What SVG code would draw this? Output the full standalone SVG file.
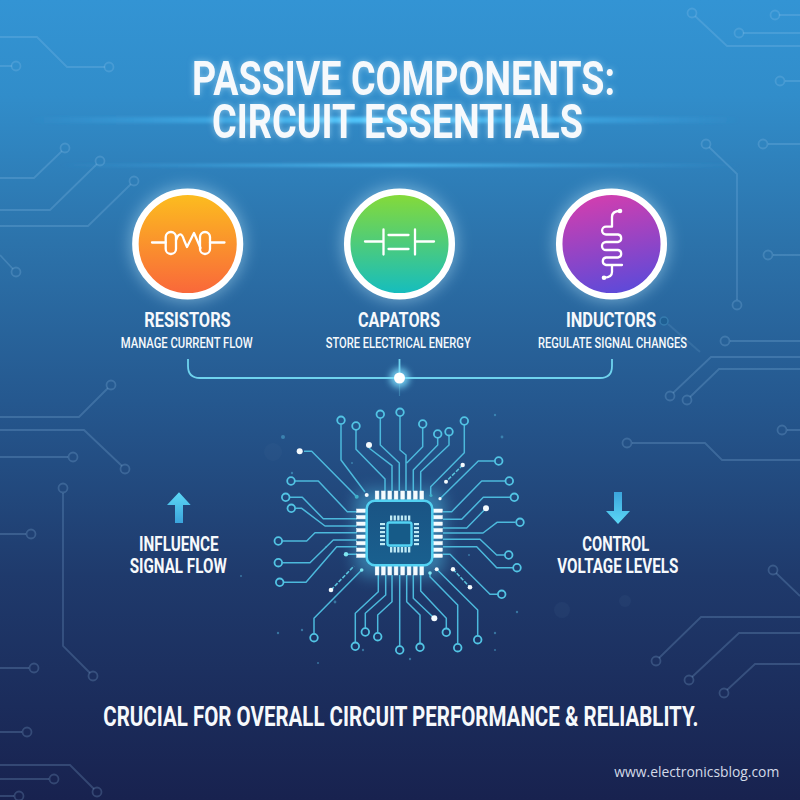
<svg xmlns="http://www.w3.org/2000/svg" width="800" height="800" viewBox="0 0 800 800">
<style>
.bg{fill:none;stroke:#9ccdf0;stroke-opacity:.21;stroke-width:1.8}
.tr{fill:none;stroke:#4cb9dc;stroke-width:1.5;stroke-linejoin:round}
.r{fill:none;stroke:#52c4e4;stroke-width:1.8}
.w{fill:#f4fafd}
.t{fill:#3fb0c8}
.dash{fill:none;stroke:#58c3dc;stroke-width:1.6;stroke-dasharray:4 1.5}
.sp{fill:#4fa9cf;opacity:.55}
.pin{fill:#f5fbfe;stroke:#f5fbfe;stroke-width:.5}
.ipin{fill:#bfeaf5}
.icon{fill:none;stroke:#fff;stroke-width:2.3;stroke-linecap:round;stroke-linejoin:round}
text{font-family:Roboto,"Liberation Sans",sans-serif;fill:#f6f9fc;font-weight:700}
.h{font-size:49px}
.n{font-size:20px}
.s{font-size:15px;font-weight:500}
</style>
<defs>
<linearGradient id="bgG" x1="0" y1="0" x2="0" y2="1">
<stop offset="0" stop-color="#3394d4"/><stop offset=".12" stop-color="#318dca"/><stop offset=".3" stop-color="#2c73ab"/><stop offset=".5" stop-color="#25588f"/><stop offset=".72" stop-color="#1f3a6c"/><stop offset="1" stop-color="#18224f"/>
</linearGradient>
<linearGradient id="glowL" x1="0" y1="0" x2="1" y2="0">
<stop offset="0" stop-color="#3fb4f5" stop-opacity="0"/><stop offset=".5" stop-color="#55cbff"/><stop offset="1" stop-color="#3fb4f5" stop-opacity="0"/>
</linearGradient>
<linearGradient id="gR" x1="0" y1="0" x2="0" y2="1"><stop offset="0" stop-color="#fcbf1e"/><stop offset="1" stop-color="#f9653b"/></linearGradient>
<linearGradient id="gC" x1="0" y1="0" x2="0" y2="1"><stop offset="0" stop-color="#88db35"/><stop offset="1" stop-color="#12bcc2"/></linearGradient>
<linearGradient id="gI" x1=".4" y1="0" x2=".6" y2="1"><stop offset="0" stop-color="#d43eae"/><stop offset="1" stop-color="#5a4ada"/></linearGradient>
<linearGradient id="gA" x1="0" y1="0" x2="0" y2="1"><stop offset="0" stop-color="#5cd8f6"/><stop offset="1" stop-color="#3ba4dc"/></linearGradient>
<linearGradient id="gD" x1="0" y1="0" x2="0" y2="1"><stop offset="0" stop-color="#3ba4dc"/><stop offset="1" stop-color="#5cd8f6"/></linearGradient>
<linearGradient id="chipF" x1="0" y1="0" x2="0" y2="1"><stop offset="0" stop-color="#1a5484"/><stop offset="1" stop-color="#19608f"/></linearGradient>
<filter id="b8" x="-50%" y="-50%" width="200%" height="200%"><feGaussianBlur stdDeviation="8"/></filter>
<filter id="b3" x="-50%" y="-50%" width="200%" height="200%"><feGaussianBlur stdDeviation="3"/></filter>
<filter id="b2" x="-5%" y="-500%" width="110%" height="1100%"><feGaussianBlur stdDeviation="1.6"/></filter>
<filter id="tg" x="-10%" y="-40%" width="120%" height="180%"><feDropShadow dx="0" dy="0" stdDeviation="3" flood-color="#cdeeff" flood-opacity=".5"/></filter>
</defs>

<rect id="background" width="800" height="800" fill="url(#bgG)"/>
<rect x="30" y="117" width="710" height="6" fill="url(#glowL)" filter="url(#b2)"/>
<rect x="60" y="164" width="680" height="2.5" fill="url(#glowL)" filter="url(#b2)"/>

<g id="background-traces">
<path class="bg" d="M0 37H37L67 67H105M0 66H12M0 178H34L62 151M0 210H50L97 164M0 226H88L131 184M0 255L13 269"/>
<circle class="bg" cx="109" cy="67" r="4.5"/><circle class="bg" cx="16" cy="66" r="4.5"/><circle class="bg" cx="65" cy="148" r="4.5"/><circle class="bg" cx="100" cy="161" r="4.5"/><circle class="bg" cx="134" cy="181" r="4.5"/><circle class="bg" cx="16" cy="272" r="4.5"/>
<path class="bg" d="M695 16L727 46H800M743 33H800M779 15H800M785 81H800M709 147L737 174V300M768 144H800M773 255H800M730 341H800M673 393L711 357H800M690 397L719 369H800M787 430H800M632 443H705L722 460H800M776 573L800 596M659 658L701 617H800M692 677L739 633H800M727 690L755 664H800"/>
<circle class="bg" cx="692" cy="13" r="4.5"/><circle class="bg" cx="775" cy="15" r="4.5"/><circle class="bg" cx="739" cy="33" r="4.5"/><circle class="bg" cx="780" cy="81" r="4.5"/><circle class="bg" cx="706" cy="144" r="4.5"/><circle class="bg" cx="763" cy="144" r="4.5"/><circle class="bg" cx="768" cy="255" r="4.5"/><circle class="bg" cx="737" cy="305" r="4.5"/><circle class="bg" cx="725" cy="341" r="4.5"/><circle class="bg" cx="670" cy="396" r="4.5"/><circle class="bg" cx="687" cy="400" r="4.5"/><circle class="bg" cx="782" cy="430" r="4.5"/><circle class="bg" cx="627" cy="443" r="4.5"/><circle class="bg" cx="773" cy="570" r="4.5"/><circle class="bg" cx="656" cy="661" r="4.5"/><circle class="bg" cx="689" cy="680" r="4.5"/><circle class="bg" cx="724" cy="693" r="4.5"/>
<path class="bg" d="M0 417H79L108 388M0 430H84L122 466M0 457H68M63 493V646L90 673M0 534H26M0 668H29M0 732H22M0 765H70L94 789M0 779H49M0 796H14"/>
<circle class="bg" cx="111" cy="385" r="4.5"/><circle class="bg" cx="125" cy="469" r="4.5"/><circle class="bg" cx="73" cy="457" r="4.5"/><circle class="bg" cx="63" cy="488" r="4.5"/><circle class="bg" cx="31" cy="534" r="4.5"/><circle class="bg" cx="93" cy="676" r="4.5"/><circle class="bg" cx="34" cy="668" r="4.5"/><circle class="bg" cx="27" cy="732" r="4.5"/><circle class="bg" cx="97" cy="792" r="4.5"/><circle class="bg" cx="54" cy="779" r="4.5"/><circle class="bg" cx="19" cy="796" r="4.5"/>
<circle cx="664" cy="321" r="4" fill="#1d5f93" stroke="#3a82b4" stroke-width="1.5" opacity=".8"/>
<path d="M668 324L700 352" stroke="#9ccdf0" stroke-opacity=".12" stroke-width="2" fill="none"/>
<circle cx="562" cy="610" r="8" fill="#8fb4d8" opacity=".05"/><circle cx="625" cy="601" r="6" fill="#8fb4d8" opacity=".05"/><circle cx="273" cy="452" r="9" fill="#8fb4d8" opacity=".04"/>
</g>

<g id="specks">
<circle class="sp" cx="241" cy="576" r="1"/><circle class="sp" cx="278" cy="633" r="1.2"/><circle class="sp" cx="363" cy="650" r="1.2"/><circle class="sp" cx="318" cy="663" r="1"/><circle class="sp" cx="410" cy="659" r="1.2"/><circle class="sp" cx="495" cy="650" r="1"/><circle class="sp" cx="517" cy="612" r="1.2"/><circle class="sp" cx="495" cy="633" r="1.2"/><circle class="sp" cx="495" cy="415" r="1.2"/><circle class="sp" cx="292" cy="473" r="1.2"/><circle class="sp" cx="352" cy="463" r="1"/><circle class="sp" cx="502" cy="437" r="1.4" opacity=".3"/><circle class="sp" cx="283" cy="437" r="2" opacity=".25"/><circle class="sp" cx="302" cy="630" r="1.2" opacity=".3"/><circle class="sp" cx="335" cy="602" r="1.4" opacity=".3"/><circle class="sp" cx="326" cy="547" r="1" opacity=".4"/><circle class="sp" cx="469" cy="555" r="1" opacity=".4"/>
</g>

<g id="title">
<text class="h" x="192" y="95" textLength="423" lengthAdjust="spacingAndGlyphs" filter="url(#tg)">PASSIVE COMPONENTS:</text>
<text class="h" x="212" y="138" textLength="371" lengthAdjust="spacingAndGlyphs" filter="url(#tg)">CIRCUIT ESSENTIALS</text>
</g>

<g id="node-resistors">
<circle cx="187.7" cy="244" r="57" fill="#b9e6fb" opacity=".5" filter="url(#b8)"/>
<circle cx="187.7" cy="244" r="52.3" fill="url(#gR)" stroke="#fff" stroke-width="6.5"/>
<path class="icon" d="M152 242.5H165.7M210 242.5H224.5"/>
<rect class="icon" x="165.7" y="232" width="10.3" height="22" rx="5"/>
<rect class="icon" x="200" y="232" width="10" height="22" rx="5"/>
<path class="icon" d="M176 240C179 232 182 233 184 240L187 247L194 233L200.500 248"/>
<text class="n" x="144.300" y="327" textLength="86.400" lengthAdjust="spacingAndGlyphs">RESISTORS</text>
<text class="s" x="120.700" y="347.700" textLength="132" lengthAdjust="spacingAndGlyphs">MANAGE CURRENT FLOW</text>
</g>

<g id="node-capacitors">
<circle cx="399.500" cy="244" r="57" fill="#b9e6fb" opacity=".5" filter="url(#b8)"/>
<circle cx="399.500" cy="244" r="52.300" fill="url(#gC)" stroke="#fff" stroke-width="6.500"/>
<path class="icon" d="M365 241.500H383.500M383.500 229.500V254.500M388.500 235H408.500M388.500 249H408.500M415 229.500V254.500M415 241.500H434"/>
<text class="n" x="358" y="327" textLength="82" lengthAdjust="spacingAndGlyphs">CAPATORS</text>
<text class="s" x="325.700" y="347.700" textLength="145" lengthAdjust="spacingAndGlyphs">STORE ELECTRICAL ENERGY</text>
</g>

<g id="node-inductors">
<circle cx="611.500" cy="244" r="57" fill="#b9e6fb" opacity=".5" filter="url(#b8)"/>
<circle cx="611.500" cy="244" r="52.300" fill="url(#gI)" stroke="#fff" stroke-width="6.500"/>
<path class="icon" d="M620 211Q612 211 612 217V226.700H606A3.900 3.900 0 0 0 606 234.500H618A3.800 3.800 0 0 1 618 242H606A4 4 0 0 0 606 250H618A3.800 3.800 0 0 1 618 257.500H606A3.800 3.800 0 0 0 606 265H622M612 265V272Q612 277.500 604 277.700"/>
<circle cx="620" cy="211" r="2.300" fill="#fff"/><circle cx="604" cy="277.700" r="2.300" fill="#fff"/>
<text class="n" x="566" y="327" textLength="90" lengthAdjust="spacingAndGlyphs">INDUCTORS</text>
<text class="s" x="538" y="347.700" textLength="149" lengthAdjust="spacingAndGlyphs">REGULATE SIGNAL CHANGES</text>
</g>

<g id="connectors">
<path d="M188 359V366Q188 378 200 378H600Q612 378 612 366V359" fill="none" stroke="#6fd3ee" stroke-width="1.800"/>
<path d="M399.500 359V378" fill="none" stroke="#6fd3ee" stroke-width="1.800"/>
<path d="M399.500 384V396" fill="none" stroke="#6fd3ee" stroke-width="1.200" opacity=".3"/>
<circle cx="399.500" cy="378" r="10" fill="#7fe0ff" opacity=".8" filter="url(#b3)"/>
<circle cx="399.500" cy="378" r="5.500" fill="#fff"/>
</g>

<g id="node-chip">
<rect x="355" y="490" width="90" height="86" rx="14" fill="#52c9ee" opacity=".45" filter="url(#b8)"/>
<g id="chip-traces">
<path class="tr" d="M341 425V460L365 492M356 430V449.300L385 479V491M369 448L392 465.700V491M380.300 418V445L399.300 463V491M400 416V450L406 455V491M422.700 428V446.700L406.700 463M437.700 438V445L413.300 470V491M449 436V445L420.700 471.700V491M464.300 425V452.700L430.700 486.700V495"/>
<path class="tr" d="M304 451.300H311.700L356.700 496.700M295 481H318.300L347.300 511.700H357M290 497.300H302.300L323.300 518.700H357M296 508.300H301.700L325 526H357M282.500 541H306.700L315 532.700H357M282.500 562.700H310L333.300 540H357M284 582.300H306L336.700 546.700H357M346 554.300H357"/>
<path class="tr" d="M314 633V618.300L361.700 570M355.300 642V613.300L378.300 591.700V575M365.300 628V613.300L385.700 595V575M377.700 632V615L392 601.700V575M399.700 646V575M420 643V615L406.700 601.700V575M434.300 618.300L413.300 598.300V575M446.300 628V618.300L420.700 591V575M457.700 643V605L430 576.700V573M477.700 635V610L436.700 569.300"/>
<path class="tr" d="M440 498.700L478.300 461H494.500M505 481H481.700L451.700 511.700H443M510 497.300H483.300L461.700 519.300H443M486 508.300L466.700 528H443M515.500 522.300H497L483 533H443M504.500 555H496.700L480 539.300H443M513 567.700H496.700L476.700 546.700H443M497.500 594.300H490L450 554.300H443"/>
<path class="dash" d="M462.700 465L446 481.700M331 590L354 566M453 569.300L470 587.300"/>
<g>
<circle class="r" cx="341" cy="420.300" r="3.800"/><circle class="r" cx="356" cy="426" r="3.800"/><circle class="r" cx="380.300" cy="414.300" r="3.800"/><circle class="r" cx="400" cy="412.300" r="3.800"/><circle class="r" cx="422.700" cy="424" r="3.800"/><circle class="r" cx="437.700" cy="434" r="3.800"/><circle class="r" cx="449" cy="431.700" r="3.800"/><circle class="r" cx="464.300" cy="421" r="3.800"/>
<circle class="r" cx="291" cy="481" r="3.800"/><circle class="r" cx="285.700" cy="497.300" r="3.800"/><circle class="r" cx="291.300" cy="508.300" r="3.800"/><circle class="r" cx="278.300" cy="541" r="3.800"/><circle class="r" cx="278.300" cy="562.700" r="3.800"/><circle class="r" cx="279.700" cy="582.300" r="3.800"/>
<circle class="r" cx="314" cy="637.700" r="3.800"/><circle class="r" cx="355.300" cy="646.300" r="3.800"/><circle class="r" cx="365.300" cy="632" r="3.800"/><circle class="r" cx="377.700" cy="636.700" r="3.800"/><circle class="r" cx="399.700" cy="650" r="3.800"/><circle class="r" cx="420" cy="647.300" r="3.800"/><circle class="r" cx="446.300" cy="632.300" r="3.800"/><circle class="r" cx="457.700" cy="647.700" r="3.800"/><circle class="r" cx="477.700" cy="639.700" r="3.800"/>
<circle class="r" cx="498.700" cy="461" r="3.800"/><circle class="r" cx="509.300" cy="481" r="3.800"/><circle class="r" cx="514.300" cy="497.300" r="3.800"/><circle class="r" cx="520" cy="522.300" r="3.800"/><circle class="r" cx="508.700" cy="555" r="3.800"/><circle class="r" cx="517" cy="567.700" r="3.800"/><circle class="r" cx="501.700" cy="594.300" r="3.800"/>
<circle class="w" cx="299.700" cy="451.300" r="3"/><circle class="w" cx="369" cy="445" r="3"/><circle class="w" cx="366.700" cy="495" r="2"/><circle class="w" cx="440" cy="498.700" r="1.600"/><circle class="w" cx="486" cy="508.300" r="3"/><circle class="w" cx="462.700" cy="465" r="2.200"/><circle class="w" cx="446" cy="481.700" r="2"/><circle class="w" cx="331" cy="590" r="2.300"/><circle class="w" cx="434.300" cy="618.300" r="3"/><circle class="w" cx="436.700" cy="569.300" r="2"/><circle class="w" cx="453" cy="569.300" r="2.200"/><circle class="w" cx="470" cy="587.300" r="2.300"/>
<circle class="t" cx="356.700" cy="496.700" r="2"/><circle class="t" cx="431" cy="495.500" r="1.500"/><circle cx="346" cy="554.300" r="2.200" fill="#7fe6f0"/><circle cx="361.700" cy="570" r="1.800" fill="#7fe6f0"/><circle cx="430" cy="573" r="1.800" fill="#7fe6f0"/>
</g>
</g>
<g id="pins">
<rect class="pin" x="375.200" y="491" width="3.700" height="8.500"/><rect class="pin" x="381.500" y="491" width="3.700" height="8.500"/><rect class="pin" x="387.900" y="491" width="3.700" height="8.500"/><rect class="pin" x="394.200" y="491" width="3.700" height="8.500"/><rect class="pin" x="400.800" y="491" width="3.700" height="8.500"/><rect class="pin" x="407.200" y="491" width="3.700" height="8.500"/><rect class="pin" x="413.500" y="491" width="3.700" height="8.500"/><rect class="pin" x="419.900" y="491" width="3.700" height="8.500"/>
<rect class="pin" x="375.200" y="566" width="3.700" height="9"/><rect class="pin" x="381.500" y="566" width="3.700" height="9"/><rect class="pin" x="387.900" y="566" width="3.700" height="9"/><rect class="pin" x="394.200" y="566" width="3.700" height="9"/><rect class="pin" x="400.800" y="566" width="3.700" height="9"/><rect class="pin" x="407.200" y="566" width="3.700" height="9"/><rect class="pin" x="413.500" y="566" width="3.700" height="9"/><rect class="pin" x="419.900" y="566" width="3.700" height="9"/>
<rect class="pin" x="356.700" y="509" width="9" height="3.400"/><rect class="pin" x="356.700" y="515.500" width="9" height="3.400"/><rect class="pin" x="356.700" y="522" width="9" height="3.400"/><rect class="pin" x="356.700" y="528.500" width="9" height="3.400"/><rect class="pin" x="356.700" y="535" width="9" height="3.400"/><rect class="pin" x="356.700" y="541.500" width="9" height="3.400"/><rect class="pin" x="356.700" y="548" width="9" height="3.400"/><rect class="pin" x="356.700" y="554" width="9" height="3.400"/>
<rect class="pin" x="433.300" y="509" width="9" height="3.400"/><rect class="pin" x="433.300" y="515.500" width="9" height="3.400"/><rect class="pin" x="433.300" y="522" width="9" height="3.400"/><rect class="pin" x="433.300" y="528.500" width="9" height="3.400"/><rect class="pin" x="433.300" y="535" width="9" height="3.400"/><rect class="pin" x="433.300" y="541.500" width="9" height="3.400"/><rect class="pin" x="433.300" y="548" width="9" height="3.400"/><rect class="pin" x="433.300" y="554" width="9" height="3.400"/>
</g>
<rect x="366.700" y="500.700" width="65.600" height="64.600" rx="8" fill="url(#chipF)" stroke="#52d2f2" stroke-width="2.500"/>
<g id="inner-pins">
<rect class="ipin" x="390" y="515.500" width="2.300" height="5"/><rect class="ipin" x="393.600" y="515.500" width="2.300" height="5"/><rect class="ipin" x="397.200" y="515.500" width="2.300" height="5"/><rect class="ipin" x="400.800" y="515.500" width="2.300" height="5"/><rect class="ipin" x="404.400" y="515.500" width="2.300" height="5"/><rect class="ipin" x="408" y="515.500" width="2.300" height="5"/>
<rect class="ipin" x="390" y="547" width="2.300" height="5.500"/><rect class="ipin" x="393.600" y="547" width="2.300" height="5.500"/><rect class="ipin" x="397.200" y="547" width="2.300" height="5.500"/><rect class="ipin" x="400.800" y="547" width="2.300" height="5.500"/><rect class="ipin" x="404.400" y="547" width="2.300" height="5.500"/><rect class="ipin" x="408" y="547" width="2.300" height="5.500"/>
<rect class="ipin" x="380" y="523" width="5" height="2.200"/><rect class="ipin" x="380" y="527" width="5" height="2.200"/><rect class="ipin" x="380" y="531" width="5" height="2.200"/><rect class="ipin" x="380" y="535" width="5" height="2.200"/><rect class="ipin" x="380" y="539" width="5" height="2.200"/><rect class="ipin" x="380" y="543" width="5" height="2.200"/>
<rect class="ipin" x="414" y="523" width="5" height="2.200"/><rect class="ipin" x="414" y="527" width="5" height="2.200"/><rect class="ipin" x="414" y="531" width="5" height="2.200"/><rect class="ipin" x="414" y="535" width="5" height="2.200"/><rect class="ipin" x="414" y="539" width="5" height="2.200"/><rect class="ipin" x="414" y="543" width="5" height="2.200"/>
</g>
<rect x="387.500" y="522.500" width="24" height="23" rx="2" fill="#165b88" stroke="#52d2f2" stroke-width="2.400"/>
</g>

<g id="node-influence">
<path d="M179 492.300L190.700 505H183V523H175V505H167Z" fill="url(#gA)"/>
<text class="n" x="139" y="550.700" textLength="79.700" lengthAdjust="spacingAndGlyphs">INFLUENCE</text>
<text class="n" x="129.700" y="572.700" textLength="97" lengthAdjust="spacingAndGlyphs">SIGNAL FLOW</text>
</g>
<g id="node-control">
<path d="M614 492H622V511H630L618 524L606 511H614Z" fill="url(#gD)"/>
<text class="n" x="582.300" y="550.700" textLength="67" lengthAdjust="spacingAndGlyphs">CONTROL</text>
<text class="n" x="557.300" y="572.700" textLength="121" lengthAdjust="spacingAndGlyphs">VOLTAGE LEVELS</text>
</g>
<g id="footer">
<text transform="translate(103.300 725.700) scale(.76 1)" font-size="27.500" textLength="783" lengthAdjust="spacingAndGlyphs">CRUCIAL FOR OVERALL CIRCUIT PERFORMANCE &amp; RELIABLITY.</text>
<text x="614.300" y="777" style="font-family:'Open Sans','Noto Sans',sans-serif;font-weight:400;fill:#d3dae8" font-size="14.500" textLength="165" lengthAdjust="spacingAndGlyphs">www.electronicsblog.com</text>
</g>
</svg>
